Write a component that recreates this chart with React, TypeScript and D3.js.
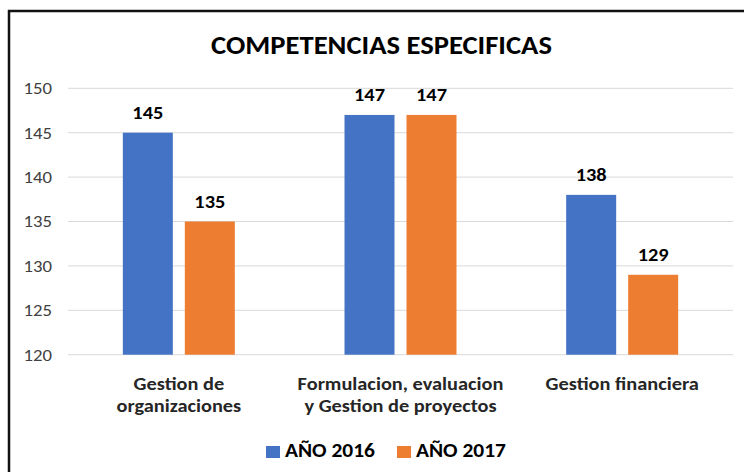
import React from 'react';
import * as d3 from 'd3';

const categories = [
  ['Gestion de', 'organizaciones'],
  ['Formulacion, evaluacion', 'y Gestion de proyectos'],
  ['Gestion financiera'],
];
const seriesNames = ['AÑO 2016', 'AÑO 2017'];
const values2016 = [145, 147, 138];
const values2017 = [135, 147, 129];
const yTicks = [120, 125, 130, 135, 140, 145, 150];

const colors = ['#4472C4', '#ED7D31'];
const font = "Calibri, Carlito, 'Liberation Sans', Arial, sans-serif";
// the reference image is slightly stretched horizontally
const SX = 1.1;

type STextProps = {
  x: number;
  y: number;
  size: number;
  bold?: boolean;
  anchor?: 'start' | 'middle' | 'end';
  fill?: string;
  dy?: string;
  children: React.ReactNode;
};

const SText: React.FC<STextProps> = ({ x, y, size, bold, anchor = 'start', fill = '#000', dy, children }) => (
  <text
    transform={`translate(${x},${y}) scale(${SX},1)`}
    textAnchor={anchor}
    fontSize={size}
    fontWeight={bold ? 'bold' : 'normal'}
    fill={fill}
    dy={dy}
  >
    {children}
  </text>
);

const App: React.FC = () => {
  const width = 744;
  const height = 472;
  const plot = { left: 68, right: 733, top: 88.3, bottom: 354.7 };

  const catKeys = categories.map((c) => c.join(' '));
  const x = d3.scaleBand<string>().domain(catKeys).range([plot.left, plot.right]);
  const bw = x.bandwidth();
  const xSub = d3
    .scaleBand<string>()
    .domain(seriesNames)
    .range([bw / 2 - 56, bw / 2 + 56])
    .paddingInner(12 / 62);
  const y = d3.scaleLinear().domain([120, 150]).range([plot.bottom, plot.top]);

  const series = [values2016, values2017];

  const legendItems = [
    { name: seriesNames[0], x: 266 },
    { name: seriesNames[1], x: 397 },
  ];

  return (
    <svg
      width={width}
      height={height}
      style={{ position: 'absolute', left: 0, top: 0, background: '#fff' }}
      fontFamily={font}
    >
      <rect x={0} y={0} width={width} height={height} fill="#fff" />
      {/* frame, open to the right and bottom */}
      <path d={`M9,${height + 5} V11 H${width + 5}`} fill="none" stroke="#111" strokeWidth={2.5} />

      <SText x={381.5} y={53.5} size={26} bold anchor="middle">
        COMPETENCIAS ESPECIFICAS
      </SText>

      {/* gridlines + y labels */}
      {yTicks.map((t) => (
        <g key={t}>
          <line x1={plot.left} x2={plot.right} y1={y(t)} y2={y(t)} stroke="#d9d9d9" strokeWidth={1} />
          <SText x={52} y={y(t)} dy="0.35em" anchor="end" size={17} fill="#404040">
            {t}
          </SText>
        </g>
      ))}

      {/* bars */}
      {catKeys.map((key, ci) => (
        <g key={key} transform={`translate(${x(key)},0)`}>
          {seriesNames.map((s, si) => {
            const v = series[si][ci];
            const bx = xSub(s)!;
            return (
              <g key={s}>
                <rect
                  x={bx}
                  y={y(v)}
                  width={xSub.bandwidth()}
                  height={y(120) - y(v)}
                  fill={colors[si]}
                />
                <SText x={bx + xSub.bandwidth() / 2} y={y(v) - 13.5} size={18.5} bold anchor="middle">
                  {v}
                </SText>
              </g>
            );
          })}
        </g>
      ))}

      {/* category labels */}
      {categories.map((lines, ci) =>
        lines.map((l, li) => (
          <SText
            key={`${ci}-${li}`}
            x={x(catKeys[ci])! + bw / 2}
            y={390 + li * 22}
            size={18.5}
            bold
            anchor="middle"
            fill="#262626"
          >
            {l}
          </SText>
        ))
      )}

      {/* legend */}
      {legendItems.map((it, i) => (
        <g key={it.name}>
          <rect x={it.x} y={446} width={14} height={12} fill={colors[i]} />
          <SText x={it.x + 19} y={457} size={19.5} bold>
            {it.name}
          </SText>
        </g>
      ))}
    </svg>
  );
};

export default App;
